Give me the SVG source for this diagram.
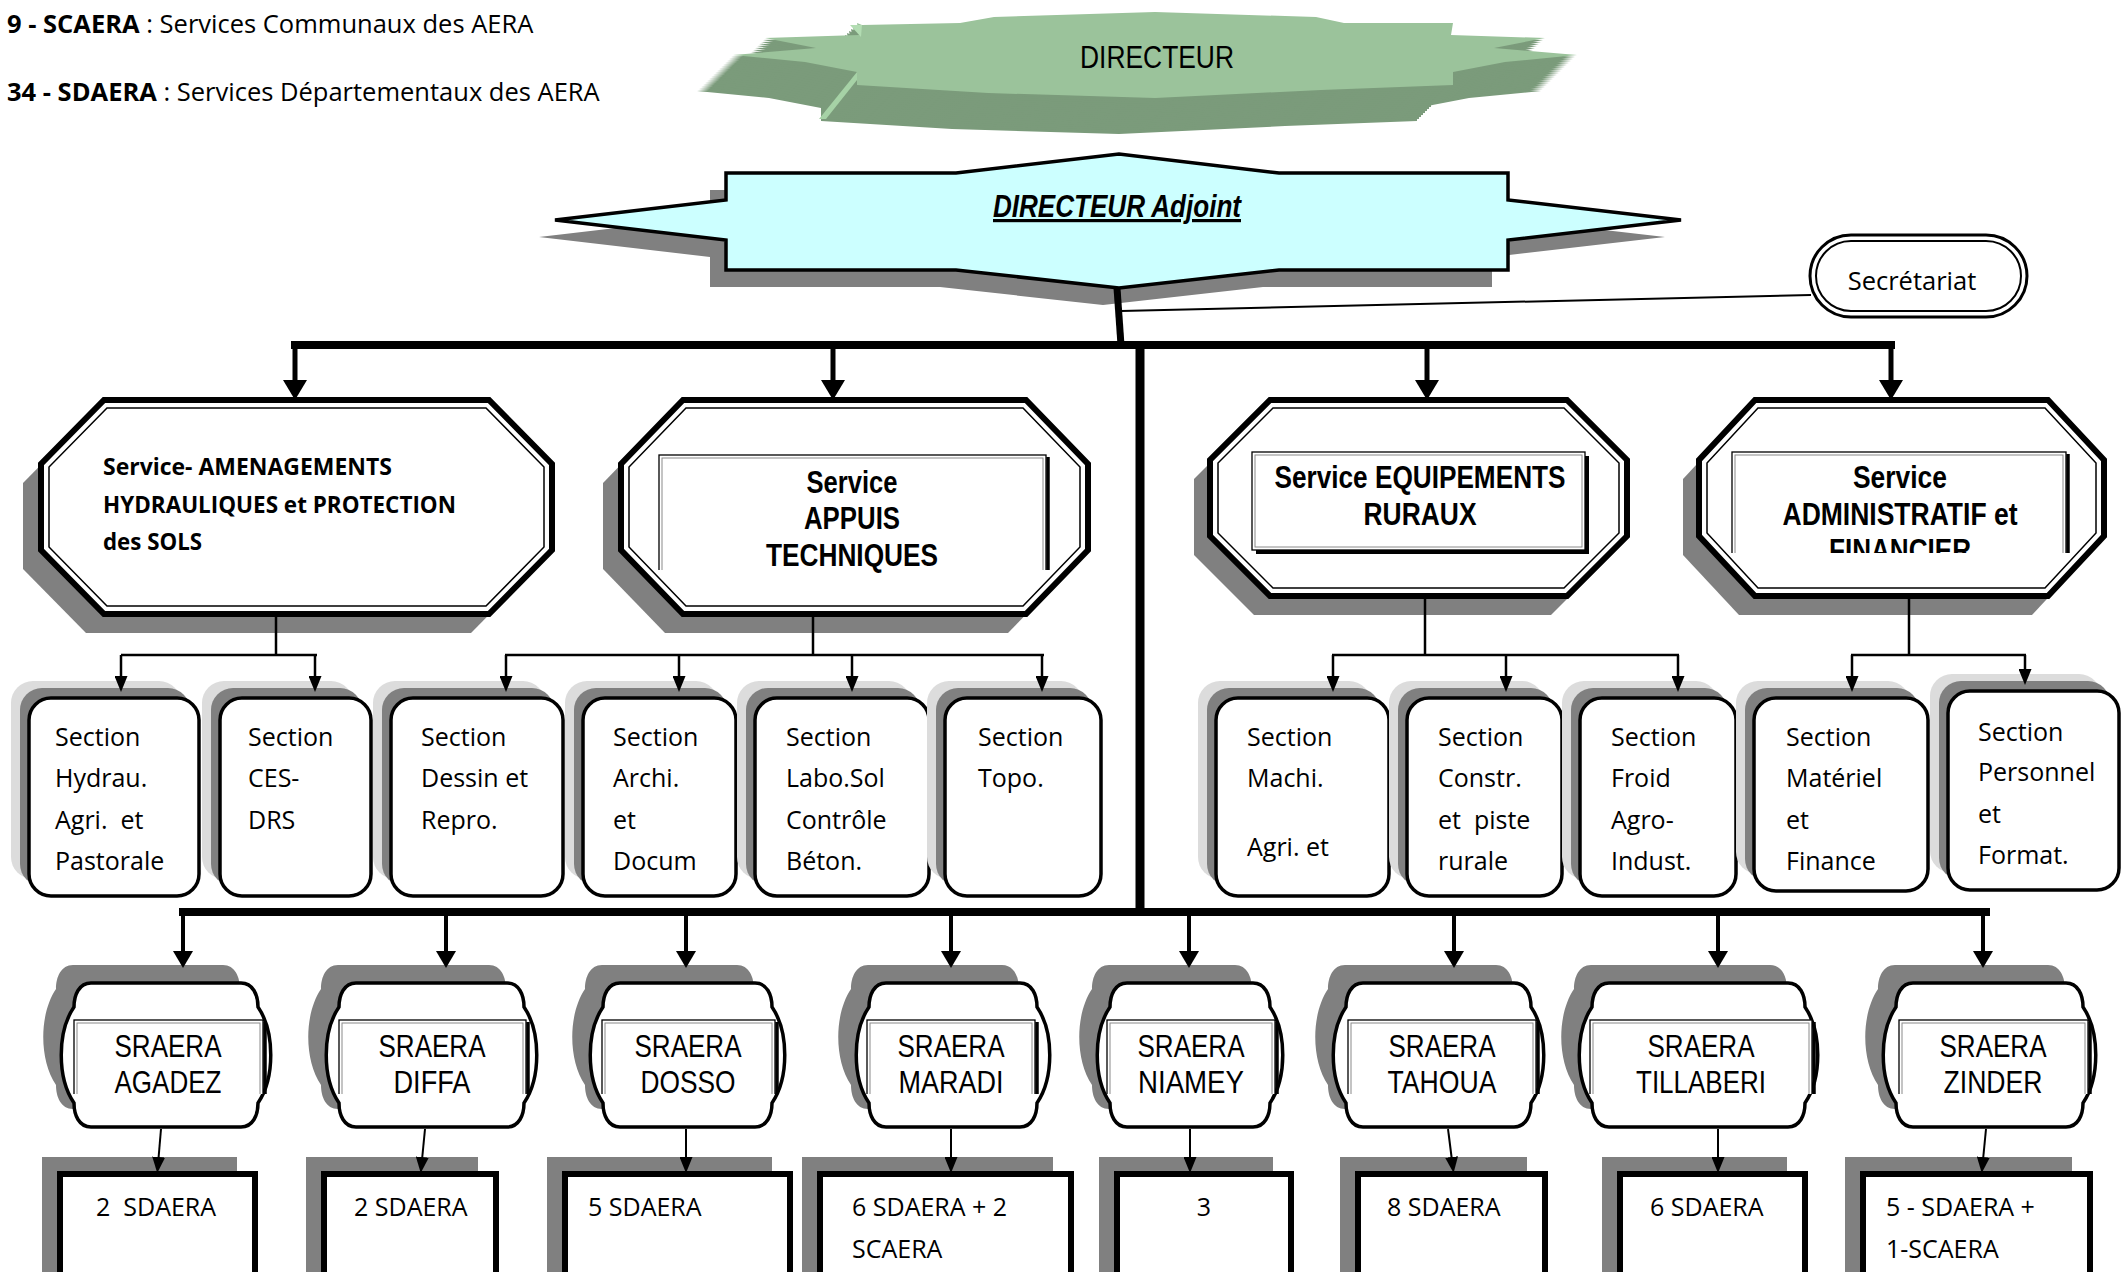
<svg xmlns="http://www.w3.org/2000/svg" width="2121" height="1272" viewBox="0 0 2121 1272">
<defs>
<style>
.cal{font-family:"Open Sans","Noto Sans",sans-serif;font-size:25px;fill:#000}
.calb{font-family:"Open Sans","Noto Sans",sans-serif;font-size:22.5px;font-weight:bold;fill:#000}
.nar{font-family:"Liberation Sans Narrow","Liberation Sans",Arial,sans-serif;font-size:32px;fill:#000}
.narb{font-family:"Liberation Sans Narrow","Liberation Sans",Arial,sans-serif;font-size:32px;font-weight:bold;fill:#000}
.pre{white-space:pre}
.sh{fill:#808080}
.sh2{fill:#dcdcdc}
.hexo{fill:#fff;stroke:#000;stroke-width:6}
.hexi{fill:none;stroke:#000;stroke-width:1.5}
.sec{fill:#fff;stroke:#000;stroke-width:3.5}
.reg{fill:#fff;stroke:#000;stroke-width:3.5}
.dep{fill:#fff;stroke:#000;stroke-width:6}
.fo{fill:#fff;stroke:#000;stroke-width:1.3}
.fi{fill:none;stroke:#8a8a8a;stroke-width:1}
.fr{stroke:#000;stroke-width:3.5}
.c{stroke:#000;fill:none}
.side{fill:#7b9b7b}
</style>
<marker id="aBig" viewBox="0 0 20 24" refX="8" refY="12" markerWidth="20" markerHeight="24" markerUnits="userSpaceOnUse" orient="auto"><path d="M0,0 L20,12 L0,24 z"/></marker>
<marker id="aMid" viewBox="0 0 17 20" refX="6" refY="10" markerWidth="17" markerHeight="20" markerUnits="userSpaceOnUse" orient="auto"><path d="M0,0 L17,10 L0,20 z"/></marker>
<marker id="aSm" viewBox="0 0 16 13" refX="5" refY="6.5" markerWidth="16" markerHeight="13" markerUnits="userSpaceOnUse" orient="auto"><path d="M0,0 L16,6.5 L0,13 z"/></marker>
<clipPath id="cH2"><rect x="640" y="440" width="430" height="130"/></clipPath>
<clipPath id="cH4"><rect x="1720" y="440" width="370" height="113"/></clipPath>
<clipPath id="cR"><rect x="0" y="1000" width="2121" height="94"/></clipPath>
<polygon id="star" points="862,25 960,23 994,17 1155,12 1316,17 1344,23 1453,23 1451,35 1545,38 1494,48 1577,55 1505,62 1453,72 1453,85 1321,90 1155,98 988,93 857,85 857,72 805,62 733,55 816,48 765,38 859,35 857,23"/>
</defs>

<!-- legend -->
<g id="legend">
<text class="cal" x="7" y="33" style="font-size:25.5px"><tspan font-weight="bold">9 - SCAERA</tspan> : Services Communaux des AERA</text>
<text class="cal" x="7" y="101" style="font-size:25.5px"><tspan font-weight="bold">34 - SDAERA</tspan> : Services Départementaux des AERA</text>
</g>

<!-- DIRECTEUR -->
<g id="directeur">
<g class="side">
<use href="#star" transform="translate(-36,36)"/>
<use href="#star" transform="translate(-34,34)"/>
<use href="#star" transform="translate(-32,32)"/>
<use href="#star" transform="translate(-30,30)"/>
<use href="#star" transform="translate(-28,28)"/>
<use href="#star" transform="translate(-26,26)"/>
<use href="#star" transform="translate(-24,24)"/>
<use href="#star" transform="translate(-22,22)"/>
<use href="#star" transform="translate(-20,20)"/>
<use href="#star" transform="translate(-18,18)"/>
<use href="#star" transform="translate(-16,16)"/>
<use href="#star" transform="translate(-14,14)"/>
<use href="#star" transform="translate(-12,12)"/>
<use href="#star" transform="translate(-10,10)"/>
<use href="#star" transform="translate(-8,8)"/>
<use href="#star" transform="translate(-6,6)"/>
<use href="#star" transform="translate(-4,4)"/>
<use href="#star" transform="translate(-2,2)"/>
</g>
<polygon fill="#a6d2a6" points="857,72 861,75 826,119 819,119"/>
<use href="#star" fill="#9bc39b"/>
<polygon fill="#b2dcb2" points="850,25 862,25 861,37"/>
<text class="nar" x="1157" y="68" text-anchor="middle" textLength="154" lengthAdjust="spacingAndGlyphs">DIRECTEUR</text>
</g>

<!-- DIRECTEUR Adjoint -->
<g id="directeur-adjoint">
<polygon class="sh" transform="translate(-16,17)" points="726,173 956,173 1119,154 1279,173 1508,173 1508,200 1681,220 1508,240 1508,270 1279,270 1119,288 956,270 726,270 726,240 555,220 726,200"/>
<polygon fill="#ccffff" stroke="#000" stroke-width="3.5" points="726,173 956,173 1119,154 1279,173 1508,173 1508,200 1681,220 1508,240 1508,270 1279,270 1119,288 956,270 726,270 726,240 555,220 726,200"/>
<text class="narb" x="1117" y="217" text-anchor="middle" font-style="italic" text-decoration="underline" textLength="248" lengthAdjust="spacingAndGlyphs">DIRECTEUR Adjoint</text>
</g>

<!-- Secretariat -->
<g id="secretariat">
<rect x="1810" y="235" width="217" height="82" rx="41" fill="#fff" stroke="#000" stroke-width="3"/>
<rect x="1816" y="241" width="205" height="70" rx="35" fill="none" stroke="#000" stroke-width="2"/>
<text class="cal" x="1912" y="290" text-anchor="middle" style="font-size:25.5px">Secrétariat</text>
</g>

<!-- Services -->
<g id="service-amenagements">
<polygon class="sh" transform="translate(-18,19)" points="104,400 489,400 552,464 552,550 489,614 104,614 41,550 41,464"/>
<polygon class="hexo" points="104,400 489,400 552,464 552,550 489,614 104,614 41,550 41,464"/>
<polygon class="hexi" points="107,408 486,408 544,467 544,547 486,606 107,606 49,547 49,467"/>
<text class="calb" x="103" y="475" textLength="289" lengthAdjust="spacingAndGlyphs">Service- AMENAGEMENTS</text>
<text class="calb" x="103" y="513" textLength="353" lengthAdjust="spacingAndGlyphs">HYDRAULIQUES et PROTECTION</text>
<text class="calb" x="103" y="550" textLength="99" lengthAdjust="spacingAndGlyphs">des SOLS</text>
</g>

<g id="service-appuis">
<polygon class="sh" transform="translate(-18,19)" points="683,400 1026,400 1088,464 1088,550 1026,614 683,614 621,550 621,464"/>
<polygon class="hexo" points="683,400 1026,400 1088,464 1088,550 1026,614 683,614 621,550 621,464"/>
<polygon class="hexi" points="686,408 1023,408 1080,467 1080,547 1023,606 686,606 629,547 629,467"/>
<g clip-path="url(#cH2)">
<rect class="fo" x="659" y="455" width="387" height="140"/>
<rect class="fi" x="662" y="458" width="381" height="134"/>
<line class="fr" x1="1048" y1="457" x2="1048" y2="600"/>
</g>
<text class="narb" x="852" y="493" text-anchor="middle" textLength="91" lengthAdjust="spacingAndGlyphs">Service</text>
<text class="narb" x="852" y="529" text-anchor="middle" textLength="96" lengthAdjust="spacingAndGlyphs">APPUIS</text>
<text class="narb" x="852" y="566" text-anchor="middle" textLength="172" lengthAdjust="spacingAndGlyphs">TECHNIQUES</text>
</g>

<g id="service-equipements">
<polygon class="sh" transform="translate(-16,19)" points="1270,400 1567,400 1627,460 1627,536 1567,596 1270,596 1210,536 1210,460"/>
<polygon class="hexo" points="1270,400 1567,400 1627,460 1627,536 1567,596 1270,596 1210,536 1210,460"/>
<polygon class="hexi" points="1273,408 1564,408 1619,463 1619,533 1564,588 1273,588 1218,533 1218,463"/>
<rect x="1256" y="456" width="333" height="98" fill="#000"/>
<rect class="fo" x="1252" y="452" width="333" height="98"/>
<rect class="fi" x="1255" y="455" width="327" height="92"/>
<text class="narb" x="1420" y="488" text-anchor="middle" textLength="291" lengthAdjust="spacingAndGlyphs">Service EQUIPEMENTS</text>
<text class="narb" x="1420" y="525" text-anchor="middle" textLength="113" lengthAdjust="spacingAndGlyphs">RURAUX</text>
</g>

<g id="service-administratif">
<polygon class="sh" transform="translate(-16,19)" points="1755,400 2048,400 2104,460 2104,536 2048,596 1755,596 1699,536 1699,460"/>
<polygon class="hexo" points="1755,400 2048,400 2104,460 2104,536 2048,596 1755,596 1699,536 1699,460"/>
<polygon class="hexi" points="1758,408 2045,408 2096,463 2096,533 2045,588 1758,588 1707,533 1707,463"/>
<g clip-path="url(#cH4)">
<rect class="fo" x="1732" y="452" width="334" height="140"/>
<rect class="fi" x="1735" y="455" width="328" height="134"/>
<line class="fr" x1="2068" y1="454" x2="2068" y2="600"/>
<text class="narb" x="1900" y="561" text-anchor="middle" textLength="142" lengthAdjust="spacingAndGlyphs">FINANCIER</text>
</g>
<text class="narb" x="1900" y="488" text-anchor="middle" textLength="94" lengthAdjust="spacingAndGlyphs">Service</text>
<text class="narb" x="1900" y="525" text-anchor="middle" textLength="235" lengthAdjust="spacingAndGlyphs">ADMINISTRATIF et</text>
</g>

<!-- Sections -->
<g id="section-hydrau">
<rect class="sh2" x="11" y="681" width="170" height="198" rx="22"/><rect class="sh" x="20" y="688" width="170" height="198" rx="22"/>
<rect class="sec" x="29" y="698" width="170" height="198" rx="22"/>
<text class="cal pre" x="55"><tspan x="55" y="746">Section</tspan><tspan x="55" y="787">Hydrau.</tspan><tspan x="55" y="829">Agri.  et</tspan><tspan x="55" y="870">Pastorale</tspan></text>
</g>
<g id="section-ces">
<rect class="sh2" x="202" y="681" width="151" height="198" rx="22"/><rect class="sh" x="211" y="688" width="151" height="198" rx="22"/>
<rect class="sec" x="220" y="698" width="151" height="198" rx="22"/>
<text class="cal"><tspan x="248" y="746">Section</tspan><tspan x="248" y="787">CES-</tspan><tspan x="248" y="829">DRS</tspan></text>
</g>
<g id="section-dessin">
<rect class="sh2" x="373" y="681" width="172" height="198" rx="22"/><rect class="sh" x="382" y="688" width="172" height="198" rx="22"/>
<rect class="sec" x="391" y="698" width="172" height="198" rx="22"/>
<text class="cal"><tspan x="421" y="746">Section</tspan><tspan x="421" y="787">Dessin et</tspan><tspan x="421" y="829">Repro.</tspan></text>
</g>
<g id="section-archi">
<rect class="sh2" x="565" y="681" width="153" height="198" rx="22"/><rect class="sh" x="574" y="688" width="153" height="198" rx="22"/>
<rect class="sec" x="583" y="698" width="153" height="198" rx="22"/>
<text class="cal"><tspan x="613" y="746">Section</tspan><tspan x="613" y="787">Archi.</tspan><tspan x="613" y="829">et</tspan><tspan x="613" y="870">Docum</tspan></text>
</g>
<g id="section-labo">
<rect class="sh2" x="737" y="681" width="174" height="198" rx="22"/><rect class="sh" x="746" y="688" width="174" height="198" rx="22"/>
<rect class="sec" x="755" y="698" width="174" height="198" rx="22"/>
<text class="cal"><tspan x="786" y="746">Section</tspan><tspan x="786" y="787">Labo.Sol</tspan><tspan x="786" y="829">Contrôle</tspan><tspan x="786" y="870">Béton.</tspan></text>
</g>
<g id="section-topo">
<rect class="sh2" x="927" y="681" width="156" height="198" rx="22"/><rect class="sh" x="936" y="688" width="156" height="198" rx="22"/>
<rect class="sec" x="945" y="698" width="156" height="198" rx="22"/>
<text class="cal"><tspan x="978" y="746">Section</tspan><tspan x="978" y="787">Topo.</tspan></text>
</g>
<g id="section-machi">
<rect class="sh2" x="1198" y="681" width="173" height="198" rx="22"/><rect class="sh" x="1207" y="688" width="173" height="198" rx="22"/>
<rect class="sec" x="1216" y="698" width="173" height="198" rx="22"/>
<text class="cal"><tspan x="1247" y="746">Section</tspan><tspan x="1247" y="787">Machi.</tspan><tspan x="1247" y="856">Agri. et</tspan></text>
</g>
<g id="section-constr">
<rect class="sh2" x="1389" y="681" width="155" height="198" rx="22"/><rect class="sh" x="1398" y="688" width="155" height="198" rx="22"/>
<rect class="sec" x="1407" y="698" width="155" height="198" rx="22"/>
<text class="cal pre"><tspan x="1438" y="746">Section</tspan><tspan x="1438" y="787">Constr.</tspan><tspan x="1438" y="829">et  piste</tspan><tspan x="1438" y="870">rurale</tspan></text>
</g>
<g id="section-froid">
<rect class="sh2" x="1562" y="681" width="156" height="198" rx="22"/><rect class="sh" x="1571" y="688" width="156" height="198" rx="22"/>
<rect class="sec" x="1580" y="698" width="156" height="198" rx="22"/>
<text class="cal"><tspan x="1611" y="746">Section</tspan><tspan x="1611" y="787">Froid</tspan><tspan x="1611" y="829">Agro-</tspan><tspan x="1611" y="870">Indust.</tspan></text>
</g>
<g id="section-materiel">
<rect class="sh2" x="1736" y="681" width="174" height="193" rx="22"/><rect class="sh" x="1745" y="688" width="174" height="193" rx="22"/>
<rect class="sec" x="1754" y="698" width="174" height="193" rx="22"/>
<text class="cal"><tspan x="1786" y="746">Section</tspan><tspan x="1786" y="787">Matériel</tspan><tspan x="1786" y="829">et</tspan><tspan x="1786" y="870">Finance</tspan></text>
</g>
<g id="section-personnel">
<rect class="sh2" x="1930" y="674" width="171" height="199" rx="22"/><rect class="sh" x="1939" y="681" width="171" height="199" rx="22"/>
<rect class="sec" x="1948" y="691" width="171" height="199" rx="22"/>
<text class="cal"><tspan x="1978" y="741">Section</tspan><tspan x="1978" y="781">Personnel</tspan><tspan x="1978" y="823">et</tspan><tspan x="1978" y="864">Format.</tspan></text>
</g>

<!-- Regional services -->
<g id="sraera-agadez">
<path class="sh" transform="translate(-18,-18)" d="M91,983 h150 c12,0 17,12 17,24 c17,25 17,71 0,96 c0,12 -5,24 -17,24 h-150 c-12,0 -17,-12 -17,-24 c-17,-25 -17,-71 0,-96 c0,-12 5,-24 17,-24 z"/>
<path class="reg" d="M91,983 h150 c12,0 17,12 17,24 c17,25 17,71 0,96 c0,12 -5,24 -17,24 h-150 c-12,0 -17,-12 -17,-24 c-17,-25 -17,-71 0,-96 c0,-12 5,-24 17,-24 z"/>
<g clip-path="url(#cR)"><rect class="fo" x="74" y="1020" width="189" height="100"/><rect class="fi" x="77" y="1023" width="183" height="94"/><line class="fr" x1="265" y1="1022" x2="265" y2="1120"/></g>
<text class="nar" x="168" y="1057" text-anchor="middle" textLength="107" lengthAdjust="spacingAndGlyphs">SRAERA</text>
<text class="nar" x="168" y="1093" text-anchor="middle" textLength="107" lengthAdjust="spacingAndGlyphs">AGADEZ</text>
</g>
<g id="sraera-diffa">
<path class="sh" transform="translate(-18,-18)" d="M356,983 h151 c12,0 17,12 17,24 c17,25 17,71 0,96 c0,12 -5,24 -17,24 h-151 c-12,0 -17,-12 -17,-24 c-17,-25 -17,-71 0,-96 c0,-12 5,-24 17,-24 z"/>
<path class="reg" d="M356,983 h151 c12,0 17,12 17,24 c17,25 17,71 0,96 c0,12 -5,24 -17,24 h-151 c-12,0 -17,-12 -17,-24 c-17,-25 -17,-71 0,-96 c0,-12 5,-24 17,-24 z"/>
<g clip-path="url(#cR)"><rect class="fo" x="339" y="1020" width="187" height="100"/><rect class="fi" x="342" y="1023" width="181" height="94"/><line class="fr" x1="528" y1="1022" x2="528" y2="1120"/></g>
<text class="nar" x="432" y="1057" text-anchor="middle" textLength="107" lengthAdjust="spacingAndGlyphs">SRAERA</text>
<text class="nar" x="432" y="1093" text-anchor="middle" textLength="77" lengthAdjust="spacingAndGlyphs">DIFFA</text>
</g>
<g id="sraera-dosso">
<path class="sh" transform="translate(-18,-18)" d="M620,983 h135 c12,0 17,12 17,24 c17,25 17,71 0,96 c0,12 -5,24 -17,24 h-135 c-12,0 -17,-12 -17,-24 c-17,-25 -17,-71 0,-96 c0,-12 5,-24 17,-24 z"/>
<path class="reg" d="M620,983 h135 c12,0 17,12 17,24 c17,25 17,71 0,96 c0,12 -5,24 -17,24 h-135 c-12,0 -17,-12 -17,-24 c-17,-25 -17,-71 0,-96 c0,-12 5,-24 17,-24 z"/>
<g clip-path="url(#cR)"><rect class="fo" x="602" y="1020" width="173" height="100"/><rect class="fi" x="605" y="1023" width="167" height="94"/><line class="fr" x1="777" y1="1022" x2="777" y2="1120"/></g>
<text class="nar" x="688" y="1057" text-anchor="middle" textLength="107" lengthAdjust="spacingAndGlyphs">SRAERA</text>
<text class="nar" x="688" y="1093" text-anchor="middle" textLength="95" lengthAdjust="spacingAndGlyphs">DOSSO</text>
</g>
<g id="sraera-maradi">
<path class="sh" transform="translate(-18,-18)" d="M886,983 h134 c12,0 17,12 17,24 c17,25 17,71 0,96 c0,12 -5,24 -17,24 h-134 c-12,0 -17,-12 -17,-24 c-17,-25 -17,-71 0,-96 c0,-12 5,-24 17,-24 z"/>
<path class="reg" d="M886,983 h134 c12,0 17,12 17,24 c17,25 17,71 0,96 c0,12 -5,24 -17,24 h-134 c-12,0 -17,-12 -17,-24 c-17,-25 -17,-71 0,-96 c0,-12 5,-24 17,-24 z"/>
<g clip-path="url(#cR)"><rect class="fo" x="867" y="1020" width="168" height="100"/><rect class="fi" x="870" y="1023" width="162" height="94"/><line class="fr" x1="1037" y1="1022" x2="1037" y2="1120"/></g>
<text class="nar" x="951" y="1057" text-anchor="middle" textLength="107" lengthAdjust="spacingAndGlyphs">SRAERA</text>
<text class="nar" x="951" y="1093" text-anchor="middle" textLength="105" lengthAdjust="spacingAndGlyphs">MARADI</text>
</g>
<g id="sraera-niamey">
<path class="sh" transform="translate(-18,-18)" d="M1127,983 h126 c12,0 17,12 17,24 c17,25 17,71 0,96 c0,12 -5,24 -17,24 h-126 c-12,0 -17,-12 -17,-24 c-17,-25 -17,-71 0,-96 c0,-12 5,-24 17,-24 z"/>
<path class="reg" d="M1127,983 h126 c12,0 17,12 17,24 c17,25 17,71 0,96 c0,12 -5,24 -17,24 h-126 c-12,0 -17,-12 -17,-24 c-17,-25 -17,-71 0,-96 c0,-12 5,-24 17,-24 z"/>
<g clip-path="url(#cR)"><rect class="fo" x="1107" y="1020" width="168" height="100"/><rect class="fi" x="1110" y="1023" width="162" height="94"/><line class="fr" x1="1277" y1="1022" x2="1277" y2="1120"/></g>
<text class="nar" x="1191" y="1057" text-anchor="middle" textLength="107" lengthAdjust="spacingAndGlyphs">SRAERA</text>
<text class="nar" x="1191" y="1093" text-anchor="middle" textLength="106" lengthAdjust="spacingAndGlyphs">NIAMEY</text>
</g>
<g id="sraera-tahoua">
<path class="sh" transform="translate(-18,-18)" d="M1363,983 h151 c12,0 17,12 17,24 c17,25 17,71 0,96 c0,12 -5,24 -17,24 h-151 c-12,0 -17,-12 -17,-24 c-17,-25 -17,-71 0,-96 c0,-12 5,-24 17,-24 z"/>
<path class="reg" d="M1363,983 h151 c12,0 17,12 17,24 c17,25 17,71 0,96 c0,12 -5,24 -17,24 h-151 c-12,0 -17,-12 -17,-24 c-17,-25 -17,-71 0,-96 c0,-12 5,-24 17,-24 z"/>
<g clip-path="url(#cR)"><rect class="fo" x="1348" y="1020" width="188" height="100"/><rect class="fi" x="1351" y="1023" width="182" height="94"/><line class="fr" x1="1538" y1="1022" x2="1538" y2="1120"/></g>
<text class="nar" x="1442" y="1057" text-anchor="middle" textLength="107" lengthAdjust="spacingAndGlyphs">SRAERA</text>
<text class="nar" x="1442" y="1093" text-anchor="middle" textLength="109" lengthAdjust="spacingAndGlyphs">TAHOUA</text>
</g>
<g id="sraera-tillaberi">
<path class="sh" transform="translate(-18,-18)" d="M1609,983 h179 c12,0 17,12 17,24 c17,25 17,71 0,96 c0,12 -5,24 -17,24 h-179 c-12,0 -17,-12 -17,-24 c-17,-25 -17,-71 0,-96 c0,-12 5,-24 17,-24 z"/>
<path class="reg" d="M1609,983 h179 c12,0 17,12 17,24 c17,25 17,71 0,96 c0,12 -5,24 -17,24 h-179 c-12,0 -17,-12 -17,-24 c-17,-25 -17,-71 0,-96 c0,-12 5,-24 17,-24 z"/>
<g clip-path="url(#cR)"><rect class="fo" x="1590" y="1020" width="222" height="100"/><rect class="fi" x="1593" y="1023" width="216" height="94"/><line class="fr" x1="1814" y1="1022" x2="1814" y2="1120"/></g>
<text class="nar" x="1701" y="1057" text-anchor="middle" textLength="107" lengthAdjust="spacingAndGlyphs">SRAERA</text>
<text class="nar" x="1701" y="1093" text-anchor="middle" textLength="130" lengthAdjust="spacingAndGlyphs">TILLABERI</text>
</g>
<g id="sraera-zinder">
<path class="sh" transform="translate(-18,-18)" d="M1913,983 h153 c12,0 17,12 17,24 c17,25 17,71 0,96 c0,12 -5,24 -17,24 h-153 c-12,0 -17,-12 -17,-24 c-17,-25 -17,-71 0,-96 c0,-12 5,-24 17,-24 z"/>
<path class="reg" d="M1913,983 h153 c12,0 17,12 17,24 c17,25 17,71 0,96 c0,12 -5,24 -17,24 h-153 c-12,0 -17,-12 -17,-24 c-17,-25 -17,-71 0,-96 c0,-12 5,-24 17,-24 z"/>
<g clip-path="url(#cR)"><rect class="fo" x="1899" y="1020" width="189" height="100"/><rect class="fi" x="1902" y="1023" width="183" height="94"/><line class="fr" x1="2090" y1="1022" x2="2090" y2="1120"/></g>
<text class="nar" x="1993" y="1057" text-anchor="middle" textLength="107" lengthAdjust="spacingAndGlyphs">SRAERA</text>
<text class="nar" x="1993" y="1093" text-anchor="middle" textLength="99" lengthAdjust="spacingAndGlyphs">ZINDER</text>
</g>

<!-- Departmental services -->
<g id="sdaera-agadez">
<rect class="sh" x="42" y="1157" width="195" height="120"/>
<rect class="dep" x="60" y="1174" width="195" height="120"/>
<text class="cal pre" x="96" y="1216">2  SDAERA</text>
</g>
<g id="sdaera-diffa">
<rect class="sh" x="306" y="1157" width="172" height="120"/>
<rect class="dep" x="324" y="1174" width="172" height="120"/>
<text class="cal" x="354" y="1216">2 SDAERA</text>
</g>
<g id="sdaera-dosso">
<rect class="sh" x="547" y="1157" width="225" height="120"/>
<rect class="dep" x="565" y="1174" width="225" height="120"/>
<text class="cal" x="588" y="1216">5 SDAERA</text>
</g>
<g id="sdaera-maradi">
<rect class="sh" x="802" y="1157" width="251" height="120"/>
<rect class="dep" x="820" y="1174" width="251" height="120"/>
<text class="cal"><tspan x="852" y="1216">6 SDAERA + 2</tspan><tspan x="852" y="1258">SCAERA</tspan></text>
</g>
<g id="sdaera-niamey">
<rect class="sh" x="1099" y="1157" width="174" height="120"/>
<rect class="dep" x="1117" y="1174" width="174" height="120"/>
<text class="cal" x="1204" y="1216" text-anchor="middle">3</text>
</g>
<g id="sdaera-tahoua">
<rect class="sh" x="1340" y="1157" width="187" height="120"/>
<rect class="dep" x="1358" y="1174" width="187" height="120"/>
<text class="cal" x="1387" y="1216">8 SDAERA</text>
</g>
<g id="sdaera-tillaberi">
<rect class="sh" x="1602" y="1157" width="185" height="120"/>
<rect class="dep" x="1620" y="1174" width="185" height="120"/>
<text class="cal" x="1650" y="1216">6 SDAERA</text>
</g>
<g id="sdaera-zinder">
<rect class="sh" x="1845" y="1157" width="227" height="120"/>
<rect class="dep" x="1863" y="1174" width="227" height="120"/>
<text class="cal"><tspan x="1886" y="1216">5 - SDAERA +</tspan><tspan x="1886" y="1258">1-SCAERA</tspan></text>
</g>

<!-- connectors -->
<g id="connectors">
<line class="c" x1="1121" y1="311" x2="1811" y2="295" stroke-width="2"/>
<line class="c" x1="1117" y1="288" x2="1121" y2="345" stroke-width="7"/>
<line class="c" x1="291" y1="345" x2="1895" y2="345" stroke-width="8"/>
<line class="c" x1="295" y1="345" x2="295" y2="388" stroke-width="5" marker-end="url(#aBig)"/>
<line class="c" x1="833" y1="345" x2="833" y2="388" stroke-width="5" marker-end="url(#aBig)"/>
<line class="c" x1="1427" y1="345" x2="1427" y2="388" stroke-width="5" marker-end="url(#aBig)"/>
<line class="c" x1="1891" y1="345" x2="1891" y2="388" stroke-width="5" marker-end="url(#aBig)"/>
<line class="c" x1="1140" y1="341" x2="1140" y2="916" stroke-width="9"/>
<line class="c" x1="179" y1="912" x2="1990" y2="912" stroke-width="8"/>
<line class="c" x1="183" y1="912" x2="183" y2="957" stroke-width="4" marker-end="url(#aMid)"/>
<line class="c" x1="446" y1="912" x2="446" y2="957" stroke-width="4" marker-end="url(#aMid)"/>
<line class="c" x1="686" y1="912" x2="686" y2="957" stroke-width="4" marker-end="url(#aMid)"/>
<line class="c" x1="951" y1="912" x2="951" y2="957" stroke-width="4" marker-end="url(#aMid)"/>
<line class="c" x1="1189" y1="912" x2="1189" y2="957" stroke-width="4" marker-end="url(#aMid)"/>
<line class="c" x1="1454" y1="912" x2="1454" y2="957" stroke-width="4" marker-end="url(#aMid)"/>
<line class="c" x1="1718" y1="912" x2="1718" y2="957" stroke-width="4" marker-end="url(#aMid)"/>
<line class="c" x1="1983" y1="912" x2="1983" y2="957" stroke-width="4" marker-end="url(#aMid)"/>
<g stroke-width="2.5">
<polyline class="c" points="276,617 276,655"/>
<line class="c" x1="121" y1="655" x2="317" y2="655"/>
<line class="c" x1="121" y1="655" x2="121" y2="681" marker-end="url(#aSm)"/>
<line class="c" x1="315" y1="655" x2="315" y2="681" marker-end="url(#aSm)"/>
<polyline class="c" points="813,617 813,655"/>
<line class="c" x1="505" y1="655" x2="1044" y2="655"/>
<line class="c" x1="506" y1="655" x2="506" y2="681" marker-end="url(#aSm)"/>
<line class="c" x1="679" y1="655" x2="679" y2="681" marker-end="url(#aSm)"/>
<line class="c" x1="852" y1="655" x2="852" y2="681" marker-end="url(#aSm)"/>
<line class="c" x1="1042" y1="655" x2="1042" y2="681" marker-end="url(#aSm)"/>
<polyline class="c" points="1425,599 1425,655"/>
<line class="c" x1="1332" y1="655" x2="1679" y2="655"/>
<line class="c" x1="1333" y1="655" x2="1333" y2="681" marker-end="url(#aSm)"/>
<line class="c" x1="1506" y1="655" x2="1506" y2="681" marker-end="url(#aSm)"/>
<line class="c" x1="1678" y1="655" x2="1678" y2="681" marker-end="url(#aSm)"/>
<polyline class="c" points="1909,599 1909,655"/>
<line class="c" x1="1851" y1="655" x2="2026" y2="655"/>
<line class="c" x1="1852" y1="655" x2="1852" y2="681" marker-end="url(#aSm)"/>
<line class="c" x1="2025" y1="655" x2="2025" y2="674" marker-end="url(#aSm)"/>
</g>
<g stroke-width="2">
<line class="c" x1="161" y1="1129" x2="158.2" y2="1162" marker-end="url(#aSm)"/>
<line class="c" x1="425" y1="1129" x2="421.8" y2="1162" marker-end="url(#aSm)"/>
<line class="c" x1="686" y1="1129" x2="686" y2="1162" marker-end="url(#aSm)"/>
<line class="c" x1="951" y1="1129" x2="951" y2="1162" marker-end="url(#aSm)"/>
<line class="c" x1="1190" y1="1129" x2="1190" y2="1162" marker-end="url(#aSm)"/>
<line class="c" x1="1448" y1="1129" x2="1452.2" y2="1162" marker-end="url(#aSm)"/>
<line class="c" x1="1718" y1="1129" x2="1718" y2="1162" marker-end="url(#aSm)"/>
<line class="c" x1="1986" y1="1129" x2="1982.8" y2="1162" marker-end="url(#aSm)"/>
</g>
</g>
</svg>
